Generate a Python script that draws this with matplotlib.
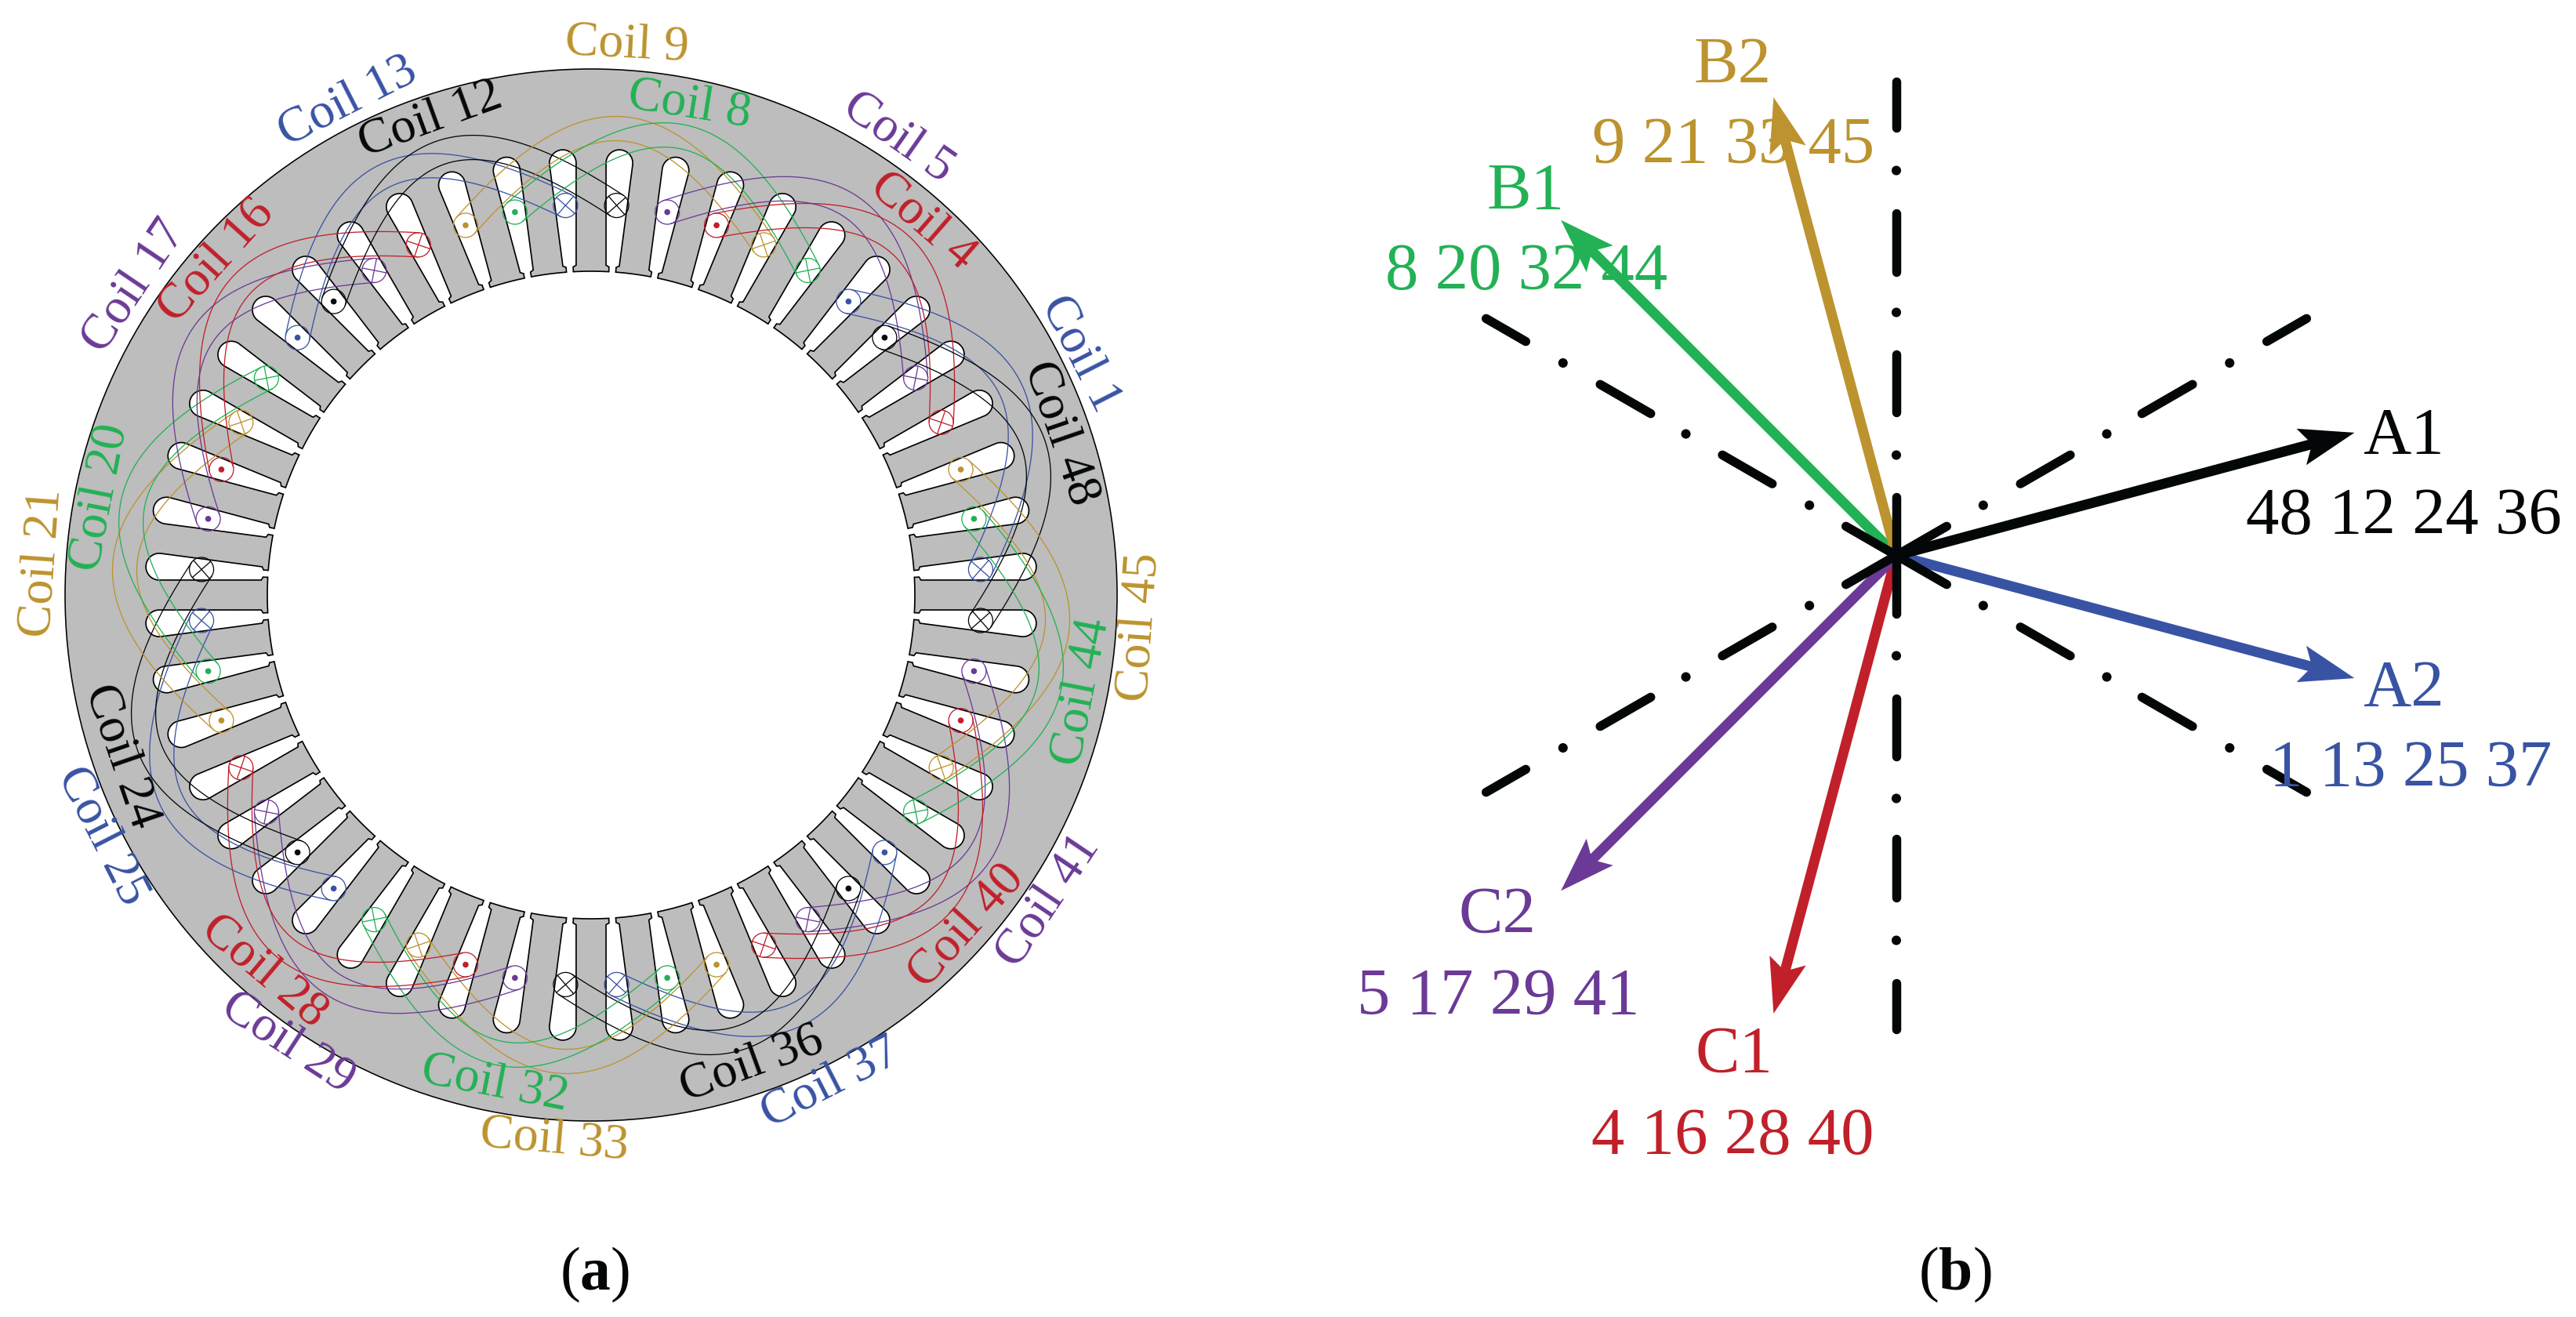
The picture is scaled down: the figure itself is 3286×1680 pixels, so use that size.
import numpy as np
import matplotlib
matplotlib.use("Agg")
import matplotlib.pyplot as plt
from matplotlib.patches import Circle

plt.rcParams['font.family'] = ['Liberation Serif', 'DejaVu Serif']
plt.rcParams['mathtext.fontset'] = 'custom'
plt.rcParams['mathtext.rm'] = 'Liberation Serif'
plt.rcParams['mathtext.bf'] = 'Liberation Serif:bold'

BLACK, BLUE, GREEN, GOLD, RED, PURPLE = '#040708', '#3953A4', '#22B155', '#BC932E', '#C1202A', '#6B3A96'
GREY = '#BDBDBD'

# winding pattern clockwise from the slot at +3.75 deg: (colour, conductor kind)
slot_colours = [BLUE, BLACK, PURPLE, RED, GOLD, GREEN, BLUE, BLACK, PURPLE, RED, GOLD, GREEN]
slot_kinds = ['x', 'x', 'd', 'd', 'x', 'x', 'd', 'd', 'x', 'x', 'd', 'd']
n_slots = 48
coil_span_deg = 45.0

# coil labels: (number, x, y, rotation)
coil_numbers = [9, 8, 5, 4, 1, 48, 45, 44, 41, 40, 37, 36, 33, 32, 29, 28, 25, 24, 21, 20, 17, 16, 13, 12]
coil_x = [800, 879, 1146, 1177, 1378, 1353, 1454, 1380, 1337, 1233, 1060, 959, 707, 631, 367, 337, 130, 155, 54, 128, 171, 276, 444, 549]
coil_y = [58, 134, 176, 282, 451, 553, 800, 883, 1150, 1182, 1382, 1358, 1455, 1383, 1331, 1239, 1067, 965, 718, 635, 366, 333, 130, 153]
coil_rot = [-3, -9, -35, -41, -63, -71, 86, 79, 56, 48, 27, 20, -5, -11, -33, -40, -63, -71, 86, 79, 56, 48, 27, 20]

# phasor diagram
phase_names = ['A1', 'A2', 'B1', 'B2', 'C1', 'C2']
phase_angles = [15, -15, 135, 105, -105, -135]
phase_colours = [BLACK, BLUE, GREEN, GOLD, RED, PURPLE]
phase_coils = ['48 12 24 36', '1 13 25 37', '8 20 32 44', '9 21 33 45', '4 16 28 40', '5 17 29 41']
phase_name_x = [3014, 3014, 1897, 2161, 2163, 1861]
phase_name_y = [579, 901, 267, 106, 1368, 1190]
phase_coil_x = [2865, 2895, 1767, 2031, 2030, 1731]
phase_coil_y = [681, 1003, 369, 208, 1472, 1294]
phasor_length = 605
axis_angles = [90, 30, -30]
axis_dash_r = [(-80, 80), (177, 262), (356, 442), (540, 610), (-262, -177), (-442, -356), (-610, -540)]
axis_dot_r = [128, 310, 491, -128, -310, -491]

PX = 0.72
fig = plt.figure(figsize=(32.87, 16.8), dpi=100)
ax = fig.add_axes([0, 0, 1, 1])
ax.set_xlim(0, 3287)
ax.set_ylim(1680, 0)
ax.set_aspect('equal')
ax.axis('off')

cx, cy = 754.0, 759.0
R_out, R_bore, R_cond, r_cond, r_dot = 671.0, 413.0, 498.0, 15.5, 3.8
tooth_half = 19.0
half_pitch = np.radians(3.75)


def pol(r, deg):
    a = np.radians(deg)
    return np.array([cx + r * np.cos(a), cy - r * np.sin(a)])


ax.add_patch(Circle((cx, cy), R_out, fc=GREY, ec='black', lw=1.6 * PX, zorder=1))


def slot_outline(theta):
    """Slot outline in local radial/tangential coordinates, then rotated."""
    w = lambda r: r * np.sin(half_pitch) - tooth_half / np.cos(half_pitch)
    r_end = 552.0
    rr = np.linspace(423, r_end, 10)
    phi = np.linspace(-np.pi / 2, np.pi / 2, 30)
    rho = w(r_end)
    u = np.r_[400, 419, 421, rr, r_end + rho * np.cos(phi), rr[::-1], 421, 419, 400]
    v = np.r_[-4.5, -4.5, -w(421), -w(rr), rho * np.sin(phi), w(rr[::-1]), w(421), 4.5, 4.5]
    a = np.radians(theta)
    x = cx + u * np.cos(a) - v * np.sin(a)
    y = cy - (u * np.sin(a) + v * np.cos(a))
    return x, y


slot_angles = [3.75 - 7.5 * k for k in range(n_slots)]
for th in slot_angles:
    x, y = slot_outline(th)
    ax.fill(x, y, fc='white', ec='none', zorder=2)
    ax.plot(x, y, color='black', lw=1.7 * PX, zorder=2.1, solid_joinstyle='miter')

ax.add_patch(Circle((cx, cy), R_bore, fc='white', ec='none', zorder=2.2))
gap = np.degrees(np.arcsin(4.5 / R_bore))
for th in slot_angles:
    t = np.radians(np.linspace(th + gap, th + 7.5 - gap, 12))
    ax.plot(cx + R_bore * np.cos(t), cy - R_bore * np.sin(t), color='black', lw=1.7 * PX, zorder=2.3)

# conductors and end windings
for k, th in enumerate(slot_angles):
    col = slot_colours[k % 12]
    kind = slot_kinds[k % 12]
    c = pol(R_cond, th)
    ax.add_patch(Circle(c, r_cond, fc='none', ec=col, lw=1.3 * PX, zorder=4))
    if kind == 'd':
        ax.add_patch(Circle(c, r_dot, fc=col, ec='none', zorder=4))
        p0 = c
        p3 = pol(R_cond, th - coil_span_deg)
        mid = np.radians(th - coil_span_deg / 2)
        B = np.array([np.cos(mid), -np.sin(mid)])
        T = (p3 - p0) / np.linalg.norm(p3 - p0)
        L, ang = 230.0, np.radians(52)
        p1 = p0 + L * (np.cos(ang) * T + np.sin(ang) * B)
        p2 = p3 + L * (-np.cos(ang) * T + np.sin(ang) * B)
        t = np.linspace(0, 1, 120)[:, None]
        curve = (1 - t) ** 3 * p0 + 3 * (1 - t) ** 2 * t * p1 + 3 * (1 - t) * t ** 2 * p2 + t ** 3 * p3
        d = 3 * (1 - t) ** 2 * (p1 - p0) + 6 * (1 - t) * t * (p2 - p1) + 3 * t ** 2 * (p3 - p2)
        d /= np.linalg.norm(d, axis=1, keepdims=True)
        n = np.c_[-d[:, 1], d[:, 0]]
        for s in (1, -1):
            off = curve + s * r_cond * n
            ax.plot(off[:, 0], off[:, 1], color=col, lw=1.3 * PX, zorder=3.5)
    else:
        for a in (45, -45):
            dv = r_cond * np.array([np.cos(np.radians(th + a)), -np.sin(np.radians(th + a))])
            ax.plot([c[0] - dv[0], c[0] + dv[0]], [c[1] - dv[1], c[1] + dv[1]], color=col, lw=1.3 * PX, zorder=4)

coil_colour = {}
for coils, col in zip(phase_coils, phase_colours):
    for num in coils.split():
        coil_colour[int(num)] = col
for num, x, y, rot in zip(coil_numbers, coil_x, coil_y, coil_rot):
    ax.text(x, y, f'Coil {num}', color=coil_colour[num], fontsize=46, rotation=rot,
            rotation_mode='anchor', ha='center', va='center', zorder=6)

# phasor diagram: dash-dot axes
ox, oy = 2419.0, 708.5
axis_lw = 11.5
inset = axis_lw / 2
for ang in axis_angles:
    ux, uy = np.cos(np.radians(ang)), -np.sin(np.radians(ang))
    for r0, r1 in axis_dash_r:
        ax.plot([ox + (r0 + inset) * ux, ox + (r1 - inset) * ux], [oy + (r0 + inset) * uy, oy + (r1 - inset) * uy],
                color=BLACK, lw=axis_lw * PX, solid_capstyle='round', zorder=5)
    for r in axis_dot_r:
        ax.add_patch(Circle((ox + r * ux, oy + r * uy), axis_lw / 2 + 0.3, fc=BLACK, ec='none', zorder=5))

# phasors
for name, ang, col in zip(phase_names, phase_angles, phase_colours):
    ux, uy = np.cos(np.radians(ang)), -np.sin(np.radians(ang))
    vx, vy = -uy, ux
    tip = np.array([ox + phasor_length * ux, oy + phasor_length * uy])
    u, v = np.array([ux, uy]), np.array([vx, vy])
    neck = tip - 56 * u
    ax.plot([ox, neck[0]], [oy, neck[1]], color=col, lw=13 * PX, solid_capstyle='butt',
            zorder=5.5 if col == BLACK else 4.5)
    head = np.array([tip, tip - 70 * u + 24 * v, neck, tip - 70 * u - 24 * v])
    ax.fill(head[:, 0], head[:, 1], fc=col, ec='none', zorder=5.5 if col == BLACK else 4.6)

for name, x, y, col in zip(phase_names, phase_name_x, phase_name_y, phase_colours):
    ax.text(x, y, name, color=col, fontsize=61, ha='left', va='baseline', zorder=7)
for txt, x, y, col in zip(phase_coils, phase_coil_x, phase_coil_y, phase_colours):
    ax.text(x, y, txt, color=col, fontsize=61, ha='left', va='baseline', zorder=7)

ax.text(759, 1645, r'($\mathbf{a}$)', color=BLACK, fontsize=56, ha='center', va='baseline')
ax.text(2494, 1645, r'($\mathbf{b}$)', color=BLACK, fontsize=56, ha='center', va='baseline')

fig.savefig('out.png', dpi=100, facecolor='white')
